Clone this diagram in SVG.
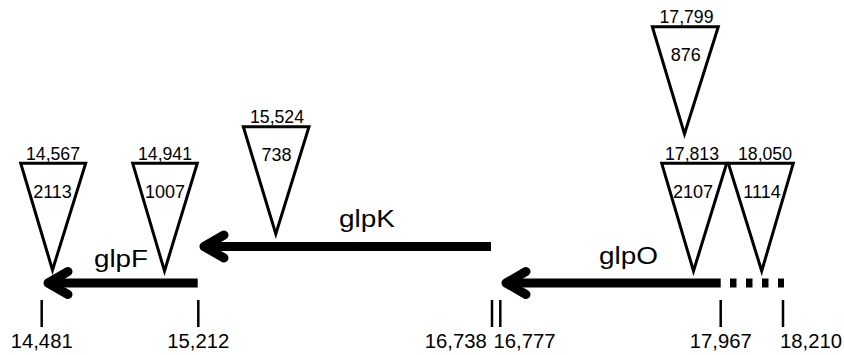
<svg xmlns="http://www.w3.org/2000/svg" width="844" height="355" viewBox="0 0 844 355">
<style>
.tri{fill:none;stroke:#000;stroke-width:3;stroke-linejoin:miter}
.shaft{stroke:#000;stroke-width:9;fill:none}
.head{stroke:#000;stroke-width:9;fill:none;stroke-linecap:round;stroke-linejoin:round}
.tick{stroke:#000;stroke-width:2.5}
text{font-family:"Liberation Sans",Arial,sans-serif;fill:#000;text-anchor:middle}
.pos{font-size:20px}
.top{font-size:17.5px}
.num{font-size:18px}
.gene{font-size:23px;text-anchor:start}
</style>
<rect width="844" height="355" fill="#fff"/>
<g id="connectors">
  <line class="shaft" x1="197.7" y1="283" x2="50" y2="283"/>
  <polyline class="head" points="68,271.5 48,283 68,294.5"/>
  <line class="shaft" x1="491" y1="246.5" x2="206" y2="246.5"/>
  <polyline class="head" points="224,235 204,246.5 224,258"/>
  <line class="shaft" x1="720.7" y1="283" x2="508" y2="283"/>
  <polyline class="head" points="526,271.5 506,283 526,294.5"/>
  <rect x="730" y="278.5" width="6.5" height="9"/>
  <rect x="746" y="278.5" width="6.5" height="9"/>
  <rect x="762" y="278.5" width="6.5" height="9"/>
  <rect x="778" y="278.5" width="6" height="9"/>
</g>
<g id="genes">
  <text class="gene" x="94" y="267" textLength="54" lengthAdjust="spacingAndGlyphs">glpF</text>
  <text class="gene" x="339" y="226.5" textLength="56" lengthAdjust="spacingAndGlyphs">glpK</text>
  <text class="gene" x="599" y="263.5" textLength="59" lengthAdjust="spacingAndGlyphs">glpO</text>
</g>
<g id="ticks">
  <line class="tick" x1="41.7" y1="300" x2="41.7" y2="327"/>
  <line class="tick" x1="198.3" y1="300" x2="198.3" y2="327"/>
  <line class="tick" x1="492" y1="300" x2="492" y2="327"/>
  <line class="tick" x1="500.3" y1="300" x2="500.3" y2="327"/>
  <line class="tick" x1="720.7" y1="300" x2="720.7" y2="327"/>
  <line class="tick" x1="783" y1="300" x2="783" y2="327"/>
  <text class="pos" x="41.7" y="348" textLength="62" lengthAdjust="spacingAndGlyphs">14,481</text>
  <text class="pos" x="198.3" y="348" textLength="62" lengthAdjust="spacingAndGlyphs">15,212</text>
  <text class="pos" x="455.8" y="348" textLength="62" lengthAdjust="spacingAndGlyphs">16,738</text>
  <text class="pos" x="524.5" y="348" textLength="62" lengthAdjust="spacingAndGlyphs">16,777</text>
  <text class="pos" x="720.8" y="348" textLength="62" lengthAdjust="spacingAndGlyphs">17,967</text>
  <text class="pos" x="811" y="348" textLength="62" lengthAdjust="spacingAndGlyphs">18,210</text>
</g>
<g id="ins2113">
  <polygon class="tri" points="20.7,163.3 85.7,163.3 52.5,270"/>
  <text class="top" x="53" y="160" textLength="54" lengthAdjust="spacingAndGlyphs">14,567</text>
  <text class="num" x="52.5" y="198">2113</text>
</g>
<g id="ins1007">
  <polygon class="tri" points="132.7,163.3 197.3,163.3 164.5,271"/>
  <text class="top" x="165" y="160" textLength="54" lengthAdjust="spacingAndGlyphs">14,941</text>
  <text class="num" x="165" y="198">1007</text>
</g>
<g id="ins738">
  <polygon class="tri" points="243.3,126.7 309,126.7 275.8,234"/>
  <text class="top" x="277" y="123" textLength="54" lengthAdjust="spacingAndGlyphs">15,524</text>
  <text class="num" x="276.5" y="161">738</text>
</g>
<g id="ins876">
  <polygon class="tri" points="652.3,26.7 718.3,26.7 684.5,134"/>
  <text class="top" x="686.5" y="22.5" textLength="54" lengthAdjust="spacingAndGlyphs">17,799</text>
  <text class="num" x="685.7" y="61">876</text>
</g>
<g id="ins2107">
  <polygon class="tri" points="661.7,163.3 726.7,163.3 693.5,271"/>
  <text class="top" x="692" y="160" textLength="54" lengthAdjust="spacingAndGlyphs">17,813</text>
  <text class="num" x="693" y="198">2107</text>
</g>
<g id="ins1114">
  <polygon class="tri" points="728.3,163.3 793.3,163.3 761.7,271"/>
  <text class="top" x="765" y="160" textLength="54" lengthAdjust="spacingAndGlyphs">18,050</text>
  <text class="num" x="762" y="198">1114</text>
</g>
</svg>
